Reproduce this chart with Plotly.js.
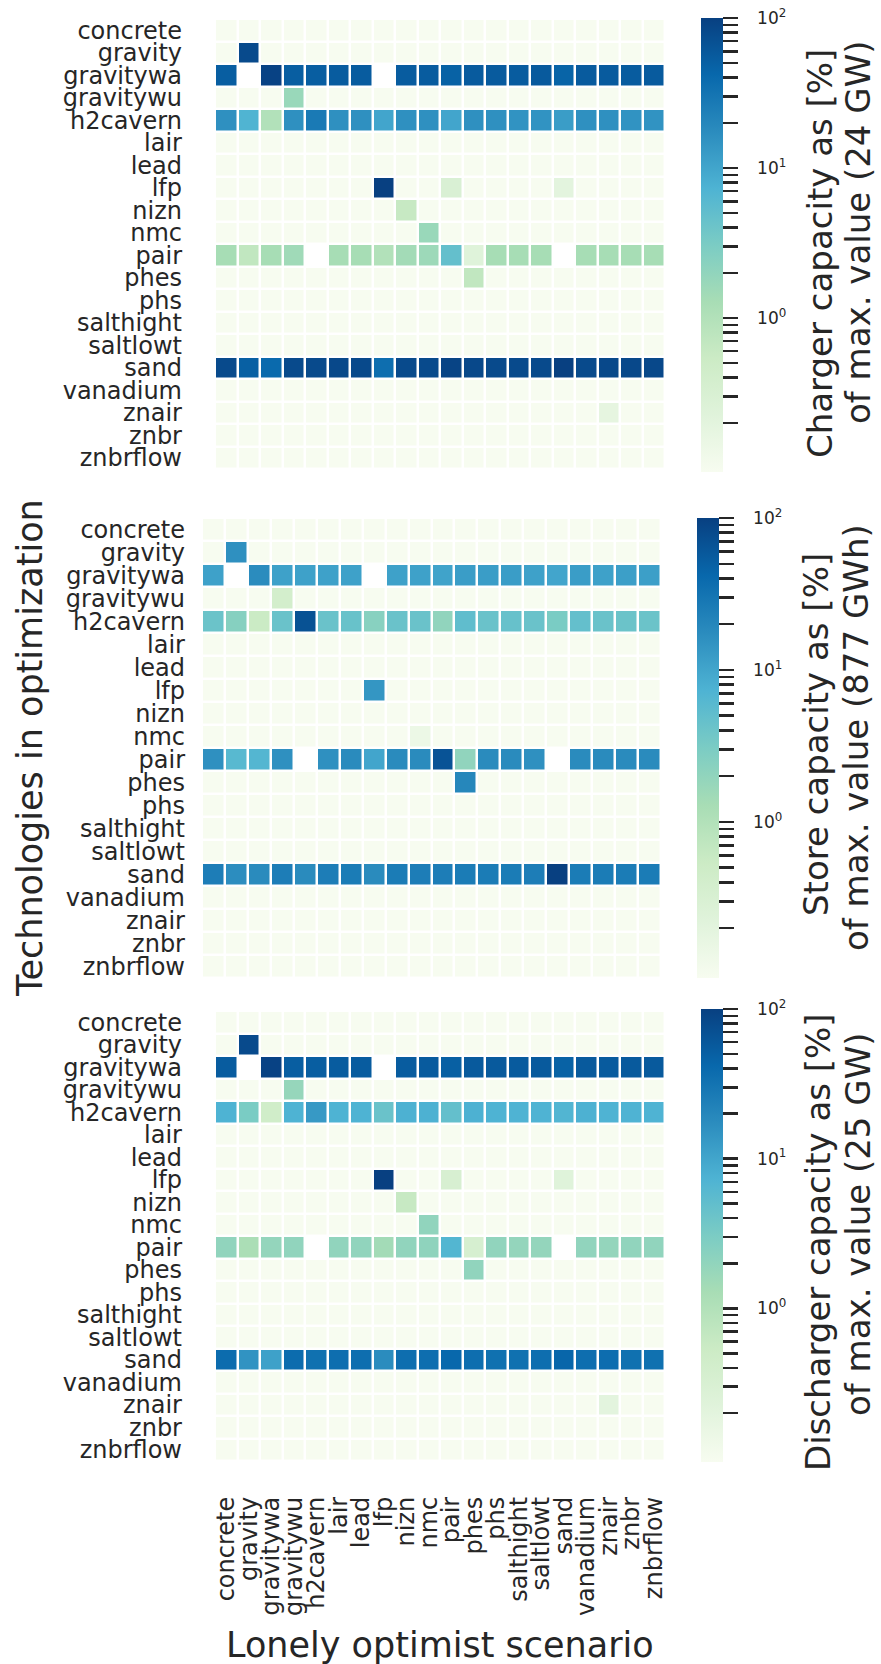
<!DOCTYPE html>
<html>
<head>
<meta charset="utf-8">
<script src="https://cdn.plot.ly/plotly-3.0.1.min.js"></script>
<style>html,body{margin:0;padding:0;background:#fff;}#chart{width:881px;height:1664px;}</style>
</head>
<body>
<div id="chart"></div>
<script>
// ---------- data ----------
const technologies = ["concrete","gravity","gravitywa","gravitywu","h2cavern","lair","lead","lfp","nizn","nmc","pair","phes","phs","salthight","saltlowt","sand","vanadium","znair","znbr","znbrflow"];
const scenarios = ["concrete","gravity","gravitywa","gravitywu","h2cavern","lair","lead","lfp","nizn","nmc","pair","phes","phs","salthight","saltlowt","sand","vanadium","znair","znbr","znbrflow"];

// Charger capacity, % of max (24 GW); rows = technologies, cols = scenarios; null = not present
const charger = [
  [0,0,0,0,0,0,0,0,0,0,0,0,0,0,0,0,0,0,0,0],
  [0,80,0,0,0,0,0,0,0,0,0,0,0,0,0,0,0,0,0,0],
  [52,null,95,52,52,54,54,null,54,54,48,56,56,54,57,46,56,56,54,56],
  [0,0,0,1.7,0,0,0,0,0,0,0,0,0,0,0,0,0,0,0,0],
  [16,7,1.0,16,27,16,16,10,16,16,10,16,16,15,15,12,16,16,15,15],
  [0,0,0,0,0,0,0,0,0,0,0,0,0,0,0,0,0,0,0,0],
  [0,0,0,0,0,0,0,0,0,0,0,0,0,0,0,0,0,0,0,0],
  [0,0,0,0,0,0,0,100,0,0,0.3,0,0,0,0,0.2,0,0,0,0],
  [0,0,0,0,0,0,0,0,0.6,0,0,0,0,0,0,0,0,0,0,0],
  [0,0,0,0,0,0,0,0,0,1.7,0,0,0,0,0,0,0,0,0,0],
  [1.3,0.7,1.3,1.5,null,1.3,1.3,1.0,1.4,1.6,4.8,0.23,1.3,1.3,1.3,null,1.3,1.3,1.3,1.3],
  [0,0,0,0,0,0,0,0,0,0,0,0.7,0,0,0,0,0,0,0,0],
  [0,0,0,0,0,0,0,0,0,0,0,0,0,0,0,0,0,0,0,0],
  [0,0,0,0,0,0,0,0,0,0,0,0,0,0,0,0,0,0,0,0],
  [0,0,0,0,0,0,0,0,0,0,0,0,0,0,0,0,0,0,0,0],
  [80,50,40,80,80,84,82,36,80,80,92,84,80,80,80,100,80,84,84,84],
  [0,0,0,0,0,0,0,0,0,0,0,0,0,0,0,0,0,0,0,0],
  [0,0,0,0,0,0,0,0,0,0,0,0,0,0,0,0,0,0.18,0,0],
  [0,0,0,0,0,0,0,0,0,0,0,0,0,0,0,0,0,0,0,0],
  [0,0,0,0,0,0,0,0,0,0,0,0,0,0,0,0,0,0,0,0]
];

// Store capacity, % of max (877 GWh)
const store = [
  [0,0,0,0,0,0,0,0,0,0,0,0,0,0,0,0,0,0,0,0],
  [0,16,0,0,0,0,0,0,0,0,0,0,0,0,0,0,0,0,0,0],
  [11,null,17.5,11,11,11,11,null,11,11,10.5,12,12,12,11,10,12,11,11.5,11.5],
  [0,0,0,0.4,0,0,0,0,0,0,0,0,0,0,0,0,0,0,0,0],
  [4.2,2.5,0.55,4.3,68,4.3,4.4,2.4,4.3,4.3,2.0,5.2,4.3,4.5,4.3,3.1,4.8,4.3,4.2,4.2],
  [0,0,0,0,0,0,0,0,0,0,0,0,0,0,0,0,0,0,0,0],
  [0,0,0,0,0,0,0,0,0,0,0,0,0,0,0,0,0,0,0,0],
  [0,0,0,0,0,0,0,14,0,0,0,0,0,0,0,0,0,0,0,0],
  [0,0,0,0,0,0,0,0,0,0,0,0,0,0,0,0,0,0,0,0],
  [0,0,0,0,0,0,0,0,0,0.14,0,0,0,0,0,0,0,0,0,0],
  [16,6,6.5,16,null,16,18,10,18,18,66,2.0,18,18,16,null,18,18,18,18],
  [0,0,0,0,0,0,0,0,0,0,0,20,0,0,0,0,0,0,0,0],
  [0,0,0,0,0,0,0,0,0,0,0,0,0,0,0,0,0,0,0,0],
  [0,0,0,0,0,0,0,0,0,0,0,0,0,0,0,0,0,0,0,0],
  [0,0,0,0,0,0,0,0,0,0,0,0,0,0,0,0,0,0,0,0],
  [25,17,18,25,18,25,26,18,26,25,25,26,26,26,25,100,26,26,26,26],
  [0,0,0,0,0,0,0,0,0,0,0,0,0,0,0,0,0,0,0,0],
  [0,0,0,0,0,0,0,0,0,0,0,0,0,0,0,0,0,0,0,0],
  [0,0,0,0,0,0,0,0,0,0,0,0,0,0,0,0,0,0,0,0],
  [0,0,0,0,0,0,0,0,0,0,0,0,0,0,0,0,0,0,0,0]
];

// Discharger capacity, % of max (25 GW)
const discharger = [
  [0,0,0,0,0,0,0,0,0,0,0,0,0,0,0,0,0,0,0,0],
  [0,80,0,0,0,0,0,0,0,0,0,0,0,0,0,0,0,0,0,0],
  [54,null,95,52,52,54,54,null,54,56,50,57,57,56,57,48,57,56,57,57],
  [0,0,0,1.8,0,0,0,0,0,0,0,0,0,0,0,0,0,0,0,0],
  [7.4,3.1,0.45,7.4,13,7.4,7.4,4.3,7.6,7.6,4.8,7.6,7.4,7.2,7.2,6.8,7.6,7.2,7.2,7.2],
  [0,0,0,0,0,0,0,0,0,0,0,0,0,0,0,0,0,0,0,0],
  [0,0,0,0,0,0,0,0,0,0,0,0,0,0,0,0,0,0,0,0],
  [0,0,0,0,0,0,0,100,0,0,0.33,0,0,0,0,0.23,0,0,0,0],
  [0,0,0,0,0,0,0,0,0.6,0,0,0,0,0,0,0,0,0,0,0],
  [0,0,0,0,0,0,0,0,0,2.0,0,0,0,0,0,0,0,0,0,0],
  [2.0,1.2,1.9,2.0,null,2.0,2.0,1.4,2.0,2.1,6.7,0.35,2.0,1.9,1.9,null,2.0,1.9,2.0,2.0],
  [0,0,0,0,0,0,0,0,0,0,0,2.0,0,0,0,0,0,0,0,0],
  [0,0,0,0,0,0,0,0,0,0,0,0,0,0,0,0,0,0,0,0],
  [0,0,0,0,0,0,0,0,0,0,0,0,0,0,0,0,0,0,0,0],
  [0,0,0,0,0,0,0,0,0,0,0,0,0,0,0,0,0,0,0,0],
  [38,15,11,38,34,36,36,17.5,36,36,42,36,34,34,36,44,36,37,34,34],
  [0,0,0,0,0,0,0,0,0,0,0,0,0,0,0,0,0,0,0,0],
  [0,0,0,0,0,0,0,0,0,0,0,0,0,0,0,0,0,0.2,0,0],
  [0,0,0,0,0,0,0,0,0,0,0,0,0,0,0,0,0,0,0,0],
  [0,0,0,0,0,0,0,0,0,0,0,0,0,0,0,0,0,0,0,0]
];

const cbTitles = [
  ["Charger capacity as [%]", "of max. value (24 GW)"],
  ["Store capacity as [%]", "of max. value (877 GWh)"],
  ["Discharger capacity as [%]", "of max. value (25 GW)"]
];
const xTitle = "Lonely optimist scenario";
const yTitle = "Technologies in optimization";

// ---------- styling / layout ----------
const W = 881, H = 1664;
const px = v => v / W;
const py = v => 1 - v / H;
const TXT = "#262626";
const FONT = "DejaVu Sans, sans-serif";
const NB = "\u00A0\u00A0\u00A0";

const GnBu = [
  [0.0, "#f7fcf0"], [0.125, "#e0f3db"], [0.25, "#ccebc5"], [0.375, "#a8ddb5"],
  [0.5, "#7bccc4"], [0.625, "#4eb3d3"], [0.75, "#2b8cbe"], [0.875, "#0868ac"], [1.0, "#084081"]
];
const ZMIN = -1.027, ZMAX = 2;

// log colour ticks
const tickvals = [], ticktext = [];
for (let k = -1; k <= 1; k++) {
  for (let m = 1; m <= 9; m++) {
    const v = Math.log10(m * Math.pow(10, k));
    if (v >= ZMIN && !(k === -1 && m === 1)) {
      tickvals.push(v);
      ticktext.push(m === 1 ? NB + "10<sup>" + k + "</sup>" : "");
    }
  }
}
tickvals.push(2); ticktext.push(NB + "10<sup>2</sup>");

function toLog(mat) {
  return mat.map(r => r.map(v => v === null ? null : Math.log10(Math.max(v, Math.pow(10, ZMIN)))));
}

const panels = [
  {data: charger, hx: [215, 665], hy: [19, 469], cbx: 701, cby: [18, 472], lab: 180},
  {data: store, hx: [202, 661], hy: [518, 978], cbx: 697, cby: [518, 978], lab: 183},
  {data: discharger, hx: [215, 665], hy: [1011, 1461], cbx: 701, cby: [1009, 1462], lab: 180}
];
const cbTitlePos = [
  [[820, 254], [858, 232]],
  [[816, 735], [856, 738]],
  [[818, 1242], [858, 1224]]
];

const traces = [];
const layout = {
  width: W, height: H,
  margin: {l: 0, r: 0, t: 0, b: 0},
  paper_bgcolor: "#fff", plot_bgcolor: "#fff",
  font: {family: FONT, color: TXT},
  showlegend: false,
  annotations: []
};

panels.forEach((p, i) => {
  const n = i === 0 ? "" : String(i + 1);
  traces.push({
    type: "heatmap",
    x: scenarios, y: technologies, z: toLog(p.data),
    xaxis: "x" + n, yaxis: "y" + n,
    colorscale: GnBu, zmin: ZMIN, zmax: ZMAX,
    xgap: 2.5, ygap: 2.5,
    hoverongaps: false,
    colorbar: {
      x: px(p.cbx), xanchor: "left", xref: "paper", xpad: 0,
      y: py((p.cby[0] + p.cby[1]) / 2), yanchor: "middle", yref: "paper", ypad: 0,
      len: (p.cby[1] - p.cby[0]) / H, lenmode: "fraction",
      thickness: 22, thicknessmode: "pixels",
      outlinewidth: 0,
      tickmode: "array", tickvals: tickvals, ticktext: ticktext,
      ticks: "outside", ticklen: 15, tickwidth: 2.5, tickcolor: TXT,
      tickfont: {family: FONT, size: 17, color: TXT}
    }
  });
  const gap = p.hx[0] - p.lab;
  layout["xaxis" + n] = {
    domain: [px(p.hx[0]), px(p.hx[1])], anchor: "y" + n,
    showgrid: false, zeroline: false, showline: false, ticks: "",
    showticklabels: i === 2, tickangle: -90,
    tickmode: "linear", tick0: 0, dtick: 1,
    tickfont: {family: FONT, size: 24, color: TXT},
    ticklabelstandoff: 30,
    type: "category"
  };
  layout["yaxis" + n] = {
    domain: [py(p.hy[1]), py(p.hy[0])], anchor: "x" + n,
    showgrid: false, zeroline: false, showline: false, ticks: "",
    tickmode: "linear", tick0: 0, dtick: 1,
    autorange: "reversed",
    tickfont: {family: FONT, size: 24, color: TXT},
    ticklabelstandoff: gap - 3,
    type: "category"
  };
  cbTitles[i].forEach((t, j) => {
    layout.annotations.push({
      text: t, xref: "paper", yref: "paper",
      x: px(cbTitlePos[i][j][0]), y: py(cbTitlePos[i][j][1]),
      xanchor: "center", yanchor: "middle", textangle: -90, showarrow: false,
      font: {family: FONT, size: 34, color: TXT}
    });
  });
});

layout.annotations.push({
  text: yTitle, xref: "paper", yref: "paper", x: px(30), y: py(748),
  xanchor: "center", yanchor: "middle", textangle: -90, showarrow: false,
  font: {family: FONT, size: 35, color: TXT}
});
layout.annotations.push({
  text: xTitle, xref: "paper", yref: "paper", x: px(440), y: py(1645),
  xanchor: "center", yanchor: "middle", showarrow: false,
  font: {family: FONT, size: 35, color: TXT}
});

Plotly.newPlot("chart", traces, layout, {staticPlot: true, displayModeBar: false});
</script>
</body>
</html>
